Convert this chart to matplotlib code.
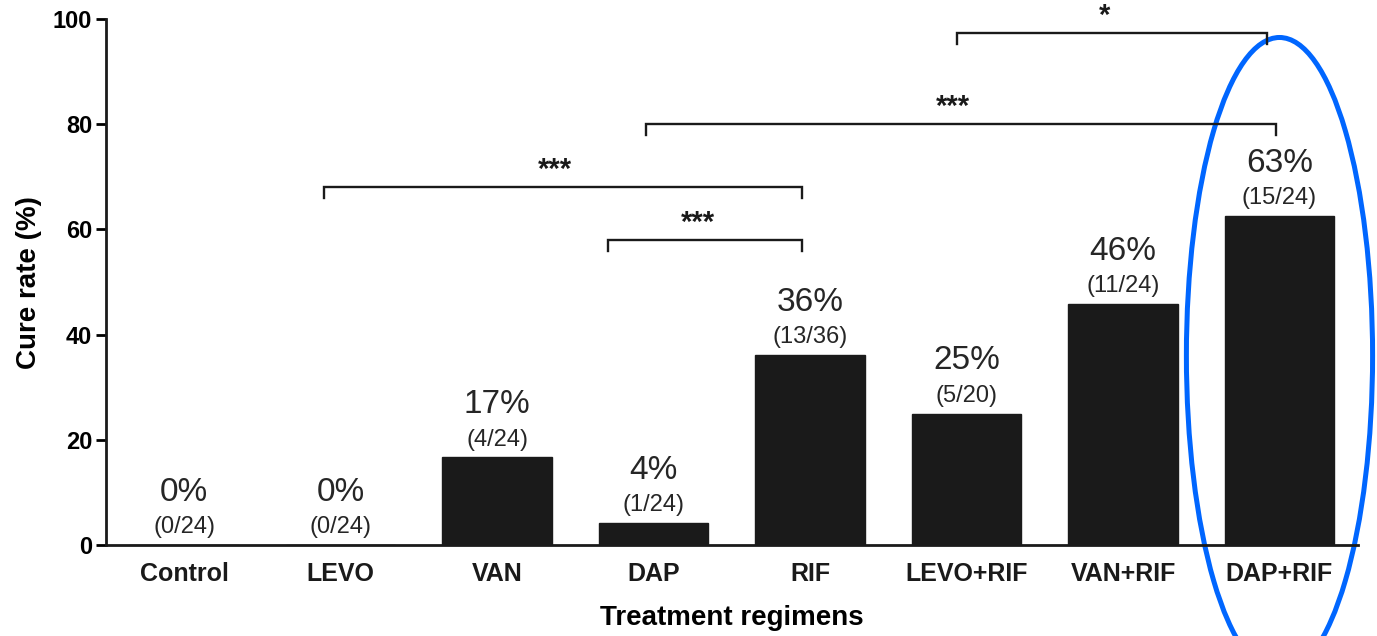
import matplotlib.pyplot as plt
from matplotlib.patches import Ellipse

plt.rcParams['font.family'] = ['Liberation Sans', 'DejaVu Sans']

# Data: cured / total per regimen
regimens = ['Control', 'LEVO', 'VAN', 'DAP', 'RIF', 'LEVO+RIF', 'VAN+RIF', 'DAP+RIF']
cured = [0, 0, 4, 1, 13, 5, 11, 15]
total = [24, 24, 24, 24, 36, 20, 24, 24]
rate_labels = ['0%', '0%', '17%', '4%', '36%', '25%', '46%', '63%']

# Significance brackets: (left x, right x, height, stars)
brackets = [
    (0.89, 3.95, 68, '***'),
    (2.71, 3.95, 58, '***'),
    (2.95, 6.98, 80, '***'),
    (4.94, 6.92, 97.3, '*'),
]

rates = [c / t * 100 for c, t in zip(cured, total)]
x = list(range(len(regimens)))

fig = plt.figure(figsize=(13.77, 6.36), dpi=100)
ax = fig.add_axes([0.077, 0.143, 0.909, 0.827])

ax.bar(x, rates, width=0.70, color='#1a1a1a', edgecolor='#1a1a1a')

for xi, r, c, t, lab in zip(x, rates, cured, total, rate_labels):
    ax.text(xi, r + 10.0, lab, ha='center', va='center', fontsize=24, color='#262626')
    ax.text(xi, r + 3.4, f'({c}/{t})', ha='center', va='center', fontsize=17, color='#262626')

for x0, x1, y, stars in brackets:
    ax.plot([x0, x0, x1, x1], [y - 2, y, y, y - 2], color='#1a1a1a', lw=1.7,
            clip_on=False, solid_joinstyle='miter')
    ax.text((x0 + x1) / 2 - 0.05, y + 3.3, stars, ha='center', va='center',
            fontsize=21, fontweight='bold', color='#1a1a1a')

# highlight ellipse around DAP+RIF
ell = Ellipse((7.0, 36.0), width=1.19, height=121, fill=False,
              edgecolor='#0066ff', lw=3.6, clip_on=False)
ax.add_patch(ell)

ax.set_xlim(-0.5, 7.5)
ax.set_ylim(0, 100)
ax.set_yticks([0, 20, 40, 60, 80, 100])
ax.set_xticks(x)
ax.set_xticklabels(regimens, fontsize=18, fontweight='bold', color='#1a1a1a')
ax.tick_params(axis='x', length=0, pad=12)
ax.tick_params(axis='y', length=7, width=2, labelsize=17, pad=3)
for lbl in ax.get_yticklabels():
    lbl.set_fontweight('bold')
ax.set_ylabel('Cure rate (%)', fontsize=20, fontweight='bold', labelpad=8)
ax.set_xlabel('Treatment regimens', fontsize=20, fontweight='bold', labelpad=14)

for side in ['top', 'right']:
    ax.spines[side].set_visible(False)
for side in ['left', 'bottom']:
    ax.spines[side].set_linewidth(2)
    ax.spines[side].set_color('#1a1a1a')

plt.savefig('out.png', dpi=100)
